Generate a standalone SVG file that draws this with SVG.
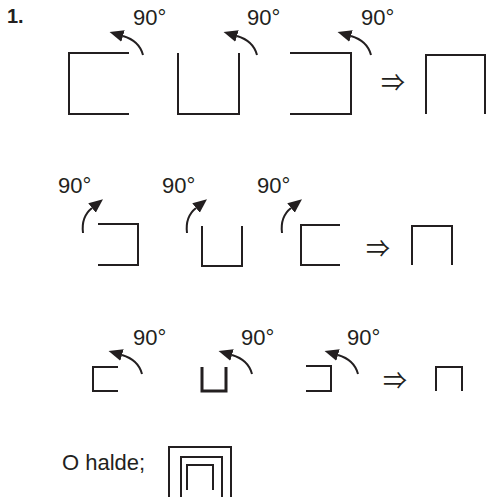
<svg xmlns="http://www.w3.org/2000/svg" width="487" height="504" viewBox="0 0 487 504">
<defs>
<style>
.t{font-family:"Liberation Sans",Arial,sans-serif;font-size:22px;fill:#231f20}
.b{font-family:"Liberation Sans",Arial,sans-serif;font-size:20px;font-weight:bold;fill:#231f20}
.imp{font-family:"Noto Sans CJK JP","DejaVu Sans",sans-serif;font-size:24px;fill:#231f20}
.s{fill:none;stroke:#231f20;stroke-width:2}
.s3{fill:none;stroke:#231f20;stroke-width:3}
.a{fill:none;stroke:#231f20;stroke-width:2;marker-end:url(#ah)}
</style>
<marker id="ah" markerUnits="userSpaceOnUse" markerWidth="16" markerHeight="14" refX="0" refY="6" orient="auto" viewBox="0 0 16 12">
<path d="M0,0 L14,6 L0,12 z" fill="#231f20"/>
</marker>
</defs>
<text class="b" x="7" y="23">1.</text>
<g id="row1">
<g id="r1-s1"><path class="s" d="M129,53 H69 V114 H129"/></g>
<g id="r1-s2"><path class="s" d="M178,53 V114 H239 V53"/></g>
<g id="r1-s3"><path class="s" d="M290,53 H351 V114 H290"/></g>
<g id="r1-s4"><path class="s" d="M426,114 V55 H485 V114"/></g>
<text class="t" x="133" y="25">90°</text>
<text class="t" x="247" y="25">90°</text>
<text class="t" x="361" y="25">90°</text>
<text class="imp" x="381" y="91">⇒</text>
</g>
<g id="row2">
<g id="r2-s1"><path class="s" d="M98,224 H138 V265 H98"/></g>
<g id="r2-s2"><path class="s" d="M202,226 V266 H242 V226"/></g>
<g id="r2-s3"><path class="s" d="M340,225 H301 V265 H340"/></g>
<g id="r2-s4"><path class="s" d="M412,265 V226 H452 V265"/></g>
<text class="t" x="58" y="193">90°</text>
<text class="t" x="162" y="193">90°</text>
<text class="t" x="257" y="193">90°</text>
<text class="imp" x="366" y="257">⇒</text>
</g>
<g id="row3">
<g id="r3-s1"><path class="s" d="M118,367 H93 V391 H118"/></g>
<g id="r3-s2"><path class="s3" d="M202,367 V391 H226 V367"/></g>
<g id="r3-s3"><path class="s" d="M306,366 H331 V391 H306"/></g>
<g id="r3-s4"><path class="s" d="M436,391 V367 H462 V391"/></g>
<text class="t" x="133" y="345">90°</text>
<text class="t" x="241" y="345">90°</text>
<text class="t" x="347" y="345">90°</text>
<text class="imp" x="383" y="389">⇒</text>
</g>
<g id="row4">
<text class="t" x="62" y="470">O halde;</text>
<g id="nested">
<path class="s" d="M169,497 V447 H231 V497"/>
<path class="s" d="M181,497 V457 H222 V497"/>
<path class="s" d="M187,490 V465 H213 V490"/>
</g>
</g>
<g id="connectors">
<path class="a" d="M143,55 Q139.3,40.8 123,36"/>
<path class="a" d="M257,55 Q253.3,40.8 237,36"/>
<path class="a" d="M371,55 Q367.3,40.8 351,36"/>
<path class="a" d="M83,233 Q81,216.7 92,208"/>
<path class="a" d="M187,233 Q185,216.7 196,208"/>
<path class="a" d="M282,233 Q280,216.7 291,208"/>
<path class="a" d="M142,374 Q138.3,359.8 122,355"/>
<path class="a" d="M252,374 Q248.3,359.8 232,355"/>
<path class="a" d="M358,374 Q354.3,359.8 338,355"/>
</g>
</svg>
